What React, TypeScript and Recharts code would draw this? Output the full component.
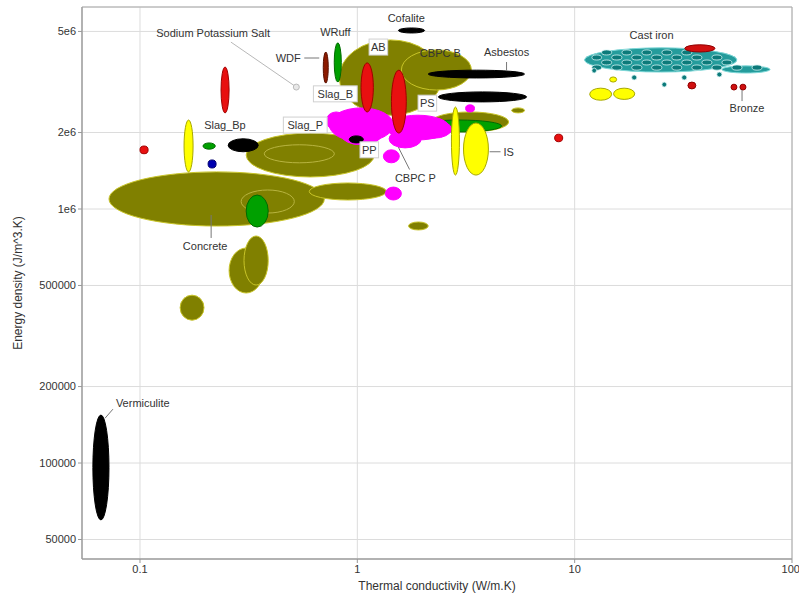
import React from 'react';
import {
  ScatterChart,
  Scatter,
  XAxis,
  YAxis,
  CartesianGrid,
  ReferenceArea,
  ReferenceLine,
  ReferenceDot
} from 'recharts';

// each box is [k min, k max, energy min, energy max] -> an ellipse inscribed in it
type Box = [number, number, number, number];

const xTicks = [0.1, 1, 10, 100];
const xTickLabels = ['0.1', '1', '10', '100'];
const yTicks = [50000, 100000, 200000, 500000, 1000000, 2000000, 5000000];
const yTickLabels = ['50000', '100000', '200000', '500000', '1e6', '2e6', '5e6'];

const olive: Box[] = [
  [0.072, 0.705, 857000, 1.4e6], // concrete
  [0.601, 1.36, 1.085e6, 1.266e6],
  [0.308, 1.197, 1.337e6, 1.99e6], // slag_P
  [0.257, 0.369, 467000, 702000],
  [0.301, 0.389, 502000, 783000],
  [0.153, 0.197, 365000, 458000],
  [0.826, 2.44, 2.34e6, 4.63e6], // AB
  [1.595, 3.35, 2.94e6, 4.23e6],
  [2.19, 4.97, 2.01e6, 2.41e6],
  [5.13, 5.88, 2.39e6, 2.5e6],
  [1.72, 2.12, 827000, 889000]
];

const oliveInner: Box[] = [
  [0.292, 0.513, 964000, 1.188e6],
  [0.373, 0.784, 1.52e6, 1.79e6]
];

const green: Box[] = [
  [0.308, 0.389, 849000, 1.135e6],
  [0.195, 0.222, 1.72e6, 1.82e6],
  [0.783, 0.844, 3.16e6, 4.51e6], // WRuff
  [1.87, 4.61, 2.01e6, 2.24e6]
];

const magenta: Box[] = [
  [0.719, 0.889, 2.05e6, 2.41e6],
  [0.743, 1.465, 1.84e6, 2.5e6],
  [0.844, 1.29, 1.79e6, 2.14e6],
  [1.36, 2.65, 1.87e6, 2.34e6],
  [1.4, 1.97, 1.74e6, 2.05e6],
  [1.87, 2.71, 1.9e6, 2.24e6],
  [1.318, 1.56, 1.52e6, 1.71e6], // PP
  [1.346, 1.595, 1.085e6, 1.22e6], // CBPC P
  [3.15, 3.46, 2.41e6, 2.57e6]
];

const red: Box[] = [
  [0.1, 0.109, 1.65e6, 1.77e6],
  [0.236, 0.257, 2.39e6, 3.62e6],
  [1.04, 1.185, 2.41e6, 3.76e6],
  [1.435, 1.68, 1.99e6, 3.52e6],
  [8.09, 8.81, 1.84e6, 1.97e6]
];

const darkRed: Box[] = [[0.697, 0.735, 3.13e6, 4.15e6]]; // WDF

const black: Box[] = [
  [0.0607, 0.072, 59700, 154500], // vermiculite
  [0.2545, 0.35, 1.68e6, 1.89e6],
  [1.545, 2.04, 4.93e6, 5.16e6], // cofalite
  [2.12, 5.88, 3.28e6, 3.52e6], // asbestos
  [2.36, 6.01, 2.64e6, 2.89e6],
  [0.918, 1.066, 1.82e6, 1.94e6]
];

const yellow: Box[] = [
  [0.1595, 0.1755, 1.4e6, 2.24e6],
  [2.71, 2.95, 1.36e6, 2.52e6],
  [3.08, 4.01, 1.36e6, 2.18e6], // IS
  [11.73, 14.8, 2.68e6, 2.99e6],
  [15.1, 18.9, 2.7e6, 2.99e6],
  [14.5, 15.6, 3.16e6, 3.31e6]
];

const blue: Box[] = [[0.2057, 0.224, 1.45e6, 1.56e6]];

// cast iron cloud
const tealBase: Box[] = [
  [11.1, 55.8, 3.46e6, 4.31e6],
  [47.6, 79.2, 3.43e6, 3.66e6]
];

const tealCells: Box[] = [
  [13.3, 14.8, 4.04e6, 4.23e6],
  [16.5, 18.3, 4.04e6, 4.23e6],
  [20.4, 22.6, 4.04e6, 4.23e6],
  [25.2, 28.0, 4.04e6, 4.23e6],
  [31.1, 34.6, 4.04e6, 4.23e6],
  [12.0, 13.3, 3.86e6, 4.04e6],
  [14.8, 16.5, 3.86e6, 4.04e6],
  [18.3, 20.4, 3.86e6, 4.04e6],
  [22.6, 25.2, 3.86e6, 4.04e6],
  [28.0, 31.1, 3.86e6, 4.04e6],
  [34.6, 38.5, 3.86e6, 4.04e6],
  [42.8, 47.6, 3.86e6, 4.04e6],
  [13.3, 14.8, 3.69e6, 3.86e6],
  [16.5, 18.3, 3.69e6, 3.86e6],
  [20.4, 22.6, 3.69e6, 3.86e6],
  [25.2, 28.0, 3.69e6, 3.86e6],
  [31.1, 34.6, 3.69e6, 3.86e6],
  [38.5, 42.8, 3.69e6, 3.86e6],
  [47.6, 52.9, 3.69e6, 3.86e6],
  [12.0, 13.3, 3.52e6, 3.69e6],
  [14.8, 16.5, 3.52e6, 3.69e6],
  [18.3, 20.4, 3.52e6, 3.69e6],
  [22.6, 25.2, 3.52e6, 3.69e6],
  [28.0, 31.1, 3.52e6, 3.69e6],
  [34.6, 38.5, 3.52e6, 3.69e6],
  [42.8, 47.6, 3.52e6, 3.69e6],
  [52.9, 58.9, 3.52e6, 3.69e6],
  [65.5, 72.8, 3.52e6, 3.69e6],
  [12.0, 12.6, 3.43e6, 3.59e6],
  [25.2, 26.5, 3.02e6, 3.16e6],
  [31.1, 32.8, 3.22e6, 3.37e6],
  [45.1, 47.6, 3.31e6, 3.46e6],
  [18.3, 19.3, 3.22e6, 3.37e6]
];

const redCast: Box[] = [
  [32.1, 44.2, 4.15e6, 4.43e6],
  [33.2, 36.1, 2.97e6, 3.16e6],
  [52.4, 55.8, 2.94e6, 3.1e6], // bronze
  [57.6, 61.4, 2.94e6, 3.1e6]
];

const labels = [
  { name: 'Sodium Potassium Salt', x: 0.217, y: 4.93e6 },
  { name: 'WRuff', x: 0.792, y: 4.98e6 },
  { name: 'Cofalite', x: 1.68, y: 5.65e6 },
  { name: 'AB', x: 1.25, y: 4.34e6 },
  { name: 'CBPC B', x: 2.41, y: 4.11e6 },
  { name: 'Asbestos', x: 4.86, y: 4.15e6 },
  { name: 'WDF', x: 0.481, y: 3.93e6 },
  { name: 'Slag_B', x: 0.792, y: 2.84e6 },
  { name: 'Slag_Bp', x: 0.246, y: 2.14e6 },
  { name: 'Slag_P', x: 0.576, y: 2.14e6 },
  { name: 'PS', x: 2.1, y: 2.61e6 },
  { name: 'PP', x: 1.135, y: 1.71e6 },
  { name: 'CBPC P', x: 1.85, y: 1.32e6 },
  { name: 'IS', x: 4.97, y: 1.68e6 },
  { name: 'Concrete', x: 0.1995, y: 715000 },
  { name: 'Cast iron', x: 22.6, y: 4.84e6 },
  { name: 'Bronze', x: 62.1, y: 2.5e6 },
  { name: 'Vermiculite', x: 0.103, y: 172000 }
];
const boxedLabels = ['AB', 'Slag_B', 'PS', 'PP', 'Slag_P'];

// leader lines [x1, y1, x2, y2]
const leaders: [number, number, number, number][] = [
  [0.262, 4.54e6, 0.524, 3.02e6],
  [0.57, 3.93e6, 0.668, 3.93e6],
  [4.86, 3.79e6, 4.86, 3.49e6],
  [1.545, 1.75e6, 1.74, 1.43e6],
  [4.06, 1.68e6, 4.56, 1.68e6],
  [0.2125, 947000, 0.2125, 769000],
  [58.9, 2.94e6, 58.9, 2.66e6],
  [0.069, 150000, 0.0751, 163000]
];

const X_DOMAIN: [number, number] = [0.0541, 100];
const Y_DOMAIN: [number, number] = [41900, 6.24e6];
const FONT = '"Liberation Sans", Arial, sans-serif';

const ellipse = (fill: string, stroke: string, sw = 1) => (p: any) => {
  const { x, y, width, height } = p;
  return (
    <ellipse
      cx={x + width / 2}
      cy={y + height / 2}
      rx={Math.abs(width) / 2}
      ry={Math.abs(height) / 2}
      fill={fill}
      stroke={stroke}
      strokeWidth={sw}
    />
  );
};

const areas = (group: Box[], key: string, shape: (p: any) => React.ReactElement) =>
  group.map((b, i) => (
    <ReferenceArea
      key={`${key}-${i}`}
      x1={b[0]}
      x2={b[1]}
      y1={b[2]}
      y2={b[3]}
      ifOverflow="visible"
      shape={shape}
    />
  ));

const renderLabel = (p: any) => {
  const { cx, cy, payload } = p;
  const boxed = boxedLabels.includes(payload.name);
  const w = payload.name.length * 6.3 + 6;
  return (
    <g>
      {boxed && (
        <rect x={cx - w / 2} y={cy - 8} width={w} height={16} fill="#fff" stroke="#d0d0d0" />
      )}
      <text
        x={cx}
        y={cy}
        textAnchor="middle"
        dominantBaseline="central"
        fontSize={11}
        fontFamily={FONT}
        fill="#333"
      >
        {payload.name}
      </text>
    </g>
  );
};

export default function App() {
  return (
    <div style={{ position: 'absolute', left: 0, top: 0, background: '#fff' }}>
      <ScatterChart width={799} height={599} margin={{ top: 7, right: 7, bottom: 0, left: 0 }}>
        <CartesianGrid stroke="#dcdcdc" />
        <XAxis
          type="number"
          dataKey="x"
          scale="log"
          domain={X_DOMAIN}
          allowDataOverflow
          ticks={xTicks}
          tickFormatter={(v: number) => xTickLabels[xTicks.indexOf(v)] ?? String(v)}
          height={40}
          tickSize={4}
          stroke="#999"
          tick={{ fontSize: 11, fill: '#333', fontFamily: FONT }}
          label={{
            content: (props: any) => {
              const vb = props.viewBox;
              return (
                <text
                  x={vb.x + vb.width / 2}
                  y={vb.y + 27}
                  textAnchor="middle"
                  dominantBaseline="central"
                  fontSize={12}
                  fontFamily={FONT}
                  fill="#333"
                >
                  Thermal conductivity (W/m.K)
                </text>
              );
            }
          }}
        />
        <YAxis
          type="number"
          dataKey="y"
          scale="log"
          domain={Y_DOMAIN}
          allowDataOverflow
          ticks={yTicks}
          tickFormatter={(v: number) => yTickLabels[yTicks.indexOf(v)] ?? String(v)}
          width={82}
          tickSize={4}
          stroke="#999"
          tick={{ fontSize: 11, fill: '#333', fontFamily: FONT }}
          label={{
            content: (props: any) => {
              const vb = props.viewBox;
              const cx = vb.x + 18;
              const cy = vb.y + vb.height / 2;
              return (
                <text
                  x={cx}
                  y={cy}
                  transform={`rotate(-90, ${cx}, ${cy})`}
                  textAnchor="middle"
                  dominantBaseline="central"
                  fontSize={12}
                  fontFamily={FONT}
                  fill="#333"
                >
                  Energy density (J/m^3.K)
                </text>
              );
            }
          }}
        />
        <ReferenceArea
          x1={X_DOMAIN[0]}
          x2={X_DOMAIN[1]}
          y1={Y_DOMAIN[0]}
          y2={Y_DOMAIN[1]}
          ifOverflow="visible"
          fill="none"
          fillOpacity={0}
          stroke="#aaa"
        />
        {areas(olive, 'olive', ellipse('#808000', '#c8c428'))}
        {areas(oliveInner, 'oliveIn', ellipse('none', '#b8b440'))}
        {areas(green, 'green', ellipse('#00a000', '#006a00'))}
        {areas(magenta, 'mag', ellipse('#ff00ff', '#ff00ff'))}
        {areas(red, 'red', ellipse('#e81010', '#a00000'))}
        {areas(darkRed, 'dred', ellipse('#8b1a00', '#5a1000'))}
        {areas(black, 'black', ellipse('#000', '#000'))}
        {areas(yellow, 'yellow', ellipse('#ffff00', '#a8a800'))}
        {areas(blue, 'blue', ellipse('#0000b0', '#000070'))}
        {areas(tealBase, 'tbase', ellipse('#249c9c', '#7ed8d8'))}
        {areas(tealCells, 'tcell', ellipse('#0c7a7a', '#d8f4f4', 0.8))}
        {areas(redCast, 'rcast', ellipse('#d01010', '#900000'))}
        {leaders.map((l, i) => (
          <ReferenceLine
            key={`lead-${i}`}
            segment={[
              { x: l[0], y: l[1] },
              { x: l[2], y: l[3] }
            ]}
            ifOverflow="visible"
            stroke={i === 0 ? '#b8b8b8' : '#777'}
          />
        ))}
        <ReferenceDot x={0.524} y={3.02e6} r={3} fill="#e8e8e8" stroke="#bbb" ifOverflow="visible" />
        <Scatter data={labels} shape={renderLabel} isAnimationActive={false} />
      </ScatterChart>
    </div>
  );
}
